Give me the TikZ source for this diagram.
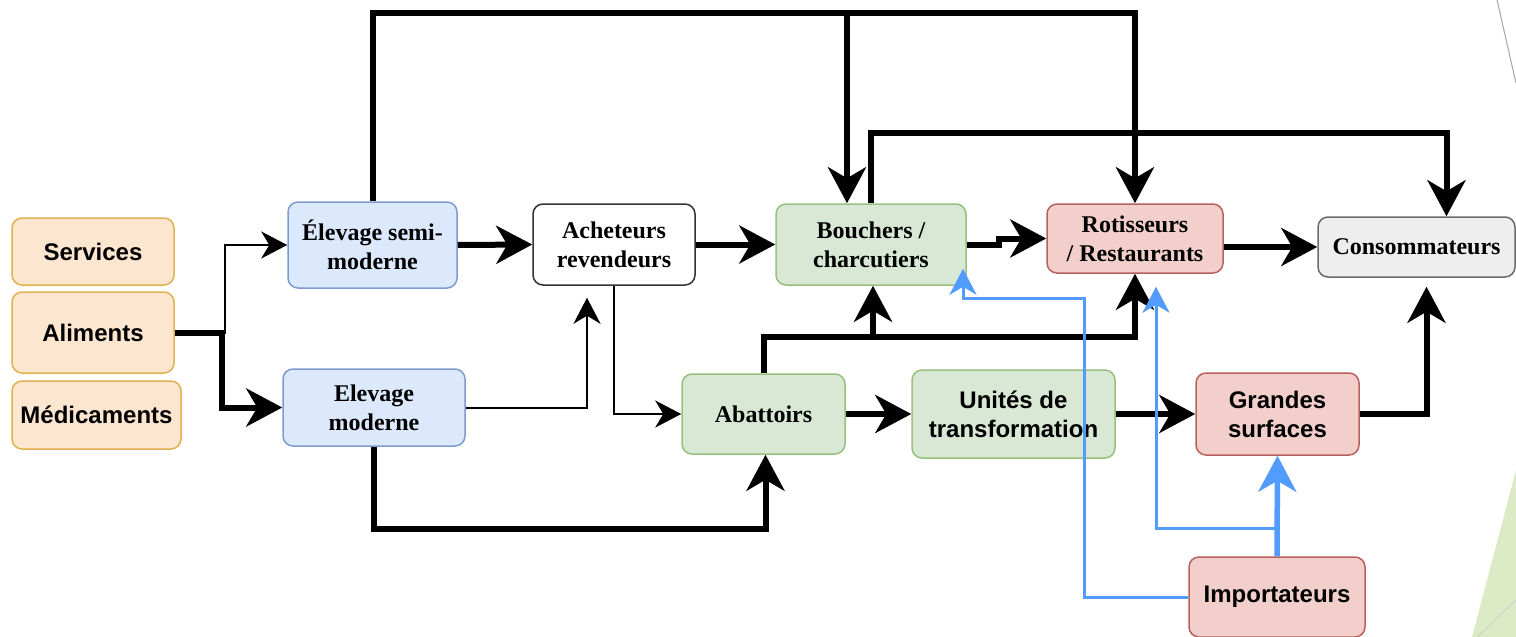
\documentclass[tikz,border=0pt]{standalone}
\usepackage{fontspec}
\setmainfont{Liberation Serif}
\setsansfont{Liberation Sans}
\usetikzlibrary{arrows.meta}
\definecolor{orfill}{HTML}{FCE6CF}
\definecolor{ordraw}{HTML}{E2B04F}
\definecolor{blfill}{HTML}{DCE8FB}
\definecolor{bldraw}{HTML}{7E9CCB}
\definecolor{grfill}{HTML}{D8E8D5}
\definecolor{grdraw}{HTML}{96C07C}
\definecolor{rdfill}{HTML}{F3CFCC}
\definecolor{rddraw}{HTML}{B8605C}
\definecolor{gyfill}{HTML}{EEEEEE}
\definecolor{gydraw}{HTML}{6A6A6A}
\definecolor{impblue}{HTML}{529BFF}
\definecolor{slidegreen}{HTML}{DDEAC6}
\tikzset{
    every node/.style={rectangle, rounded corners=10pt, draw, line width=1.5pt,
        align=center, inner sep=2pt, font=\bfseries\fontsize{24}{29}\selectfont}
}
\tikzset{
    sans/.style={font=\sffamily\bfseries\fontsize{24}{29}\selectfont},
    orangebox/.style={sans, fill=orfill, draw=ordraw},
    bluebox/.style={fill=blfill, draw=bldraw},
    greenbox/.style={fill=grfill, draw=grdraw},
    redbox/.style={fill=rdfill, draw=rddraw},
    greybox/.style={fill=gyfill, draw=gydraw},
    whitebox/.style={fill=white, draw=black!80},
    bigtip/.tip={Stealth[length=36pt, width=38pt, inset=11pt]},
    smalltip/.tip={Stealth[length=26pt, width=27pt, inset=8pt]},
    flow/.style={line width=6pt, -bigtip},
    thinflow/.style={line width=2pt, -smalltip},
    impflow/.style={impblue, line width=3pt, -smalltip},
}

\begin{document}
\begin{tikzpicture}[x=1pt, y=-1pt]
    \useasboundingbox (0,0) rectangle (1516,637);

    % slide background
    \fill[slidegreen] (1516,470) -- (1472,637) -- (1516,637) -- cycle;
    \draw[black!35, line width=1pt] (1497,0) -- (1516,83);
    \draw[white!80!black, line width=0.8pt] (1477,637) -- (1516,600);

    \node (services) at (93,251.5) [orangebox, minimum width=162pt, minimum height=67pt] {Services};
    \node (aliments) at (93,332.5) [orangebox, minimum width=162pt, minimum height=81pt] {Aliments};
    \node (medic) at (96.5,415) [orangebox, minimum width=169pt, minimum height=68pt] {Médicaments};

    \node (semi) at (372.5,245) [bluebox, minimum width=169pt, minimum height=86pt] {Élevage semi-\\moderne};
    \node (moderne) at (374,407.5) [bluebox, minimum width=182pt, minimum height=77pt] {Elevage\\moderne};
    \node (acheteurs) at (614,244.5) [whitebox, minimum width=162pt, minimum height=81pt] {Acheteurs\\revendeurs};
    \node (bouchers) at (871,244.5) [greenbox, minimum width=190pt, minimum height=81pt] {Bouchers /\\charcutiers};
    \node (rotis) at (1135,238.5) [redbox, minimum width=176pt, minimum height=69pt] {Rotisseurs\\/ Restaurants};
    \node (conso) at (1416.5,247) [greybox, minimum width=197pt, minimum height=60pt] {Consommateurs};

    \node (abattoirs) at (763.5,414) [greenbox, minimum width=163pt, minimum height=80pt] {Abattoirs};
    \node (unites) at (1013.5,414) [greenbox, sans, minimum width=203pt, minimum height=88pt] {Unités de\\transformation};
    \node (grandes) at (1277.5,414) [redbox, sans, minimum width=163pt, minimum height=82pt] {Grandes\\surfaces};
    \node (import) at (1277,597) [redbox, sans, minimum width=176pt, minimum height=80pt] {Importateurs};

    % intrants
    \draw[thinflow] (aliments.east) -- ++(50,0) |- (semi.west);
    \draw[flow] (aliments.east) -- ++(47,0) |- (moderne.west);

    % circuit du haut
    \draw[flow] (semi.east) -- (acheteurs.west);
    \draw[flow] (acheteurs.east) -- (bouchers.west);
    \draw[flow] (bouchers.east) -- ++(32,0) |- (rotis.west);
    \draw[flow] (rotis.east |- conso.west) -- (conso.west);
    \draw[flow] (semi.north) -- ++(0,-188) -| (rotis.north);
    \draw[flow] (semi.north) -- ++(0,-188) -| ([xshift=-24pt]bouchers.north);
    \draw[flow] (bouchers.north) -- ++(0,-70) -| ([xshift=30pt]conso.north);

    % circuit du bas
    \draw[thinflow] (acheteurs.south) |- (abattoirs.west);
    \draw[thinflow, shorten >=12pt] (moderne.east) -| ([xshift=-27pt]acheteurs.south);
    \draw[flow] (moderne.south) -- ++(0,82) -| ([xshift=2pt]abattoirs.south);
    \draw[flow] (abattoirs.north) -- ++(0,-36) -| ([xshift=2pt]bouchers.south);
    \draw[flow] (abattoirs.north) -- ++(0,-36) -| (rotis.south);
    \draw[flow] (abattoirs.east) -- (unites.west);
    \draw[flow] (unites.east) -- (grandes.west);
    \draw[flow, shorten >=9pt] (grandes.east) -| ([xshift=10pt]conso.south);

    % importations
    \draw[impflow, shorten >=13pt] (import.north) -- ++(0,-28) -| ([xshift=21pt]rotis.south);
    \draw[impflow, line width=5.5pt, -bigtip] (import.north) -- (grandes.south);
    \draw[impflow] (import.west) -- ++(-104,0) -- ++(0,-299) -| ([xshift=92pt, yshift=17pt]bouchers.south);
\end{tikzpicture}
\end{document}
